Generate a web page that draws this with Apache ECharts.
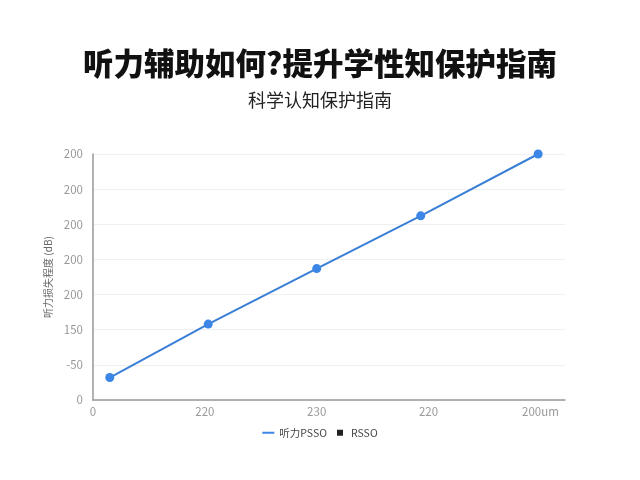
<!DOCTYPE html>
<html>
<head>
<meta charset="utf-8">
<script src="https://cdn.jsdelivr.net/npm/echarts@6/dist/echarts.min.js"></script>
<style>
  html, body { margin: 0; padding: 0; background: #fff; }
  #chart { width: 640px; height: 480px; }
</style>
</head>
<body>
<div id="chart"></div>
<script>
// data
var xValues = [0.15, 1.03, 2.0, 2.93, 3.98];
var yValues = [32, 108, 187, 262, 350];
var xTickLabels = ["0", "220", "230", "220", "200um"];
var yTickLabels = ["0", "-50", "150", "200", "200", "200", "200", "200"];
var seriesNames = ["听力PSSO", "RSSO"];

var chartDom = document.getElementById("chart");
var myChart = echarts.init(chartDom);
var font = "'Noto Sans CJK SC', 'Noto Sans', sans-serif";

var points = xValues.map(function (x, i) {
  return [x, yValues[i]];
});

var option = {
  backgroundColor: "#fff",
  textStyle: { fontFamily: font },
  title: [
    {
      text: "听力辅助如何?提升学性知保护指南",
      left: "center",
      top: 43,
      textStyle: { fontSize: 30.5, fontWeight: 900, color: "#111", fontFamily: font },
    },
    {
      text: "科学认知保护指南",
      left: "center",
      top: 86,
      textStyle: { fontSize: 18, fontWeight: "normal", color: "#222", fontFamily: font },
    },
  ],
  legend: {
    bottom: 37,
    left: "center",
    itemWidth: 12,
    itemHeight: 6,
    itemGap: 10,
    textStyle: { fontSize: 10.5, color: "#444" },
    data: [
      { name: seriesNames[0], icon: "path://M0,0H12V2H0Z" },
      { name: seriesNames[1], icon: "path://M0,0H1V1H0Z" },
    ],
  },
  grid: { left: 93, right: 75, top: 154, bottom: 80 },
  xAxis: {
    type: "value",
    min: 0,
    max: 4.22,
    interval: 1,
    axisLine: { show: true, lineStyle: { color: "#999", width: 1.5 } },
    axisTick: { show: false },
    splitLine: { show: false },
    axisLabel: {
      color: "#999",
      fontSize: 11.5,
      margin: 6,
      showMaxLabel: false,
      formatter: function (v) {
        var i = Math.round(v);
        return Math.abs(v - i) < 0.01 ? xTickLabels[i] : "";
      },
    },
  },
  yAxis: {
    type: "value",
    min: 0,
    max: 350,
    interval: 50,
    name: "听力损失程度 (dB)",
    nameLocation: "middle",
    nameGap: 35,
    nameTextStyle: { fontSize: 10, color: "#666" },
    axisLine: { show: true, lineStyle: { color: "#999", width: 1.5 } },
    axisTick: { show: false },
    splitLine: { lineStyle: { color: "#f0f0f0" } },
    axisLabel: {
      color: "#999",
      fontSize: 11.5,
      margin: 10,
      formatter: function (v) {
        return yTickLabels[Math.round(v / 50)];
      },
    },
  },
  series: [
    {
      name: seriesNames[0],
      type: "line",
      data: points,
      symbol: "circle",
      symbolSize: 9,
      lineStyle: { color: "#3a7fd6", width: 2 },
      itemStyle: { color: "#3b86e6" },
    },
    {
      name: seriesNames[1],
      type: "line",
      data: [],
      itemStyle: { color: "#222" },
      lineStyle: { color: "#222" },
    },
  ],
};

option && myChart.setOption(option);
</script>
</body>
</html>
